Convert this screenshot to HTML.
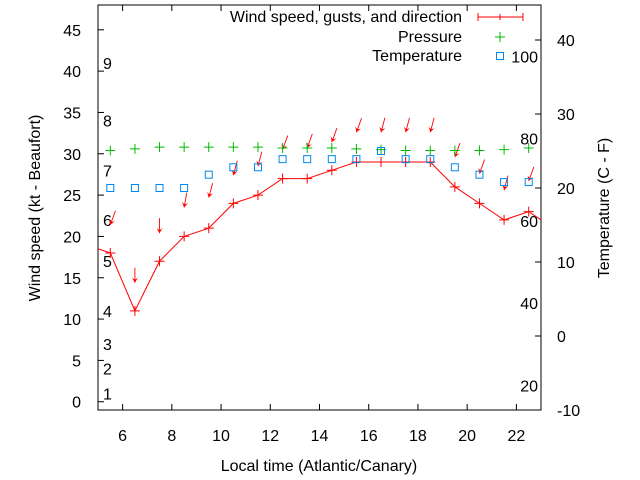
<!DOCTYPE html>
<html><head><meta charset="utf-8"><style>
body{margin:0;background:#fff}
svg{display:block;font-family:"Liberation Sans",sans-serif;font-size:16px}
</style></head><body>
<svg id="c" width="640" height="480"></svg>
<script>
const hours=[5.5,6.5,7.5,8.5,9.5,10.5,11.5,12.5,13.5,14.5,15.5,16.5,17.5,18.5,19.5,20.5,21.5,22.5];
const windLineX=[4.5,5.5,6.5,7.5,8.5,9.5,10.5,11.5,12.5,13.5,14.5,15.5,16.5,17.5,18.5,19.5,20.5,21.5,22.5,23.5];
const windLine=[19,18,11,17,20,21,24,25,27,27,28,29,29,29,29,26,24,22,23,21];
const arrowTip=[21.4,14.4,20.4,23.5,24.7,27.4,28.5,30.5,30.7,31.4,32.6,32.6,32.6,32.6,29.6,27.6,25.6,26.7];
const arrowDir=[20,0,0,10,15,15,15,20,20,20,20,15,15,15,20,20,15,20];
const pressure=[30.4,30.6,30.8,30.8,30.8,30.8,30.8,30.7,30.7,30.7,30.6,30.5,30.4,30.4,30.4,30.4,30.5,30.7];
const tempC=[20,20,20,20,21.8,22.8,22.8,23.9,23.9,23.9,23.9,25,23.9,23.9,22.8,21.8,20.8,20.8];
const xTicks=[6,8,10,12,14,16,18,20,22];
const yTicks=[0,5,10,15,20,25,30,35,40,45];
const y2Ticks=[-10,0,10,20,30,40];
const fTicks=[20,40,60,80,100];
const beaufortKt=[1,4,7,11,17,22,28,34,41];
const beaufortLbl=["1","2","3","4","5","6","7","8","9"];
const L=98,R=541,T=5,B=410;
const X=v=>L+(v-5)/18*(R-L);
const Y=v=>B-(v+1)/49*(B-T);
const Y2=c=>B-(c+10)/54.73*(B-T);
const svg=document.getElementById('c');const NS='http://www.w3.org/2000/svg';
function mk(t,a,p){const e=document.createElementNS(NS,t);for(const k in a)e.setAttribute(k,a[k]);(p||svg).appendChild(e);return e;}
const defs=mk('defs',{});const cp=mk('clipPath',{id:'cl'},defs);mk('rect',{x:L,y:T,width:R-L,height:B-T},cp);
const frame=mk('rect',{x:L,y:T,width:R-L,height:B-T,fill:'none',stroke:'#000'});

xTicks.forEach(v=>{mk('line',{x1:X(v),x2:X(v),y1:B,y2:B-6,stroke:'#000'});mk('line',{x1:X(v),x2:X(v),y1:T,y2:T+6,stroke:'#000'});
const t=mk('text',{x:X(v),y:B+31,'text-anchor':'middle'});t.textContent=v;});
yTicks.forEach(v=>{mk('line',{x1:L,x2:L+6,y1:Y(v),y2:Y(v),stroke:'#000'});
const t=mk('text',{x:L-17,y:Y(v)+6,'text-anchor':'end'});t.textContent=v;});
y2Ticks.forEach(v=>{mk('line',{x1:R,x2:R-6,y1:Y2(v),y2:Y2(v),stroke:'#000'});
const t=mk('text',{x:R+16,y:Y2(v)+6});t.textContent=v;});
fTicks.forEach(f=>{const t=mk('text',{x:538,y:Y2((f-32)/1.8)+6,'text-anchor':'end'});t.textContent=f;});
beaufortKt.forEach((k,i)=>{const t=mk('text',{x:103,y:Y(k)+6});t.textContent=beaufortLbl[i];});
const g=mk('g',{'clip-path':'url(#cl)'});
const wl=mk('polyline',{points:windLineX.map((h,i)=>X(h)+','+Y(windLine[i])).join(' '),fill:'none',stroke:'#f00'},g);

hours.forEach((h,i)=>{const x=X(h),y=Y(windLine[i+1]);const p=mk('path',{d:`M${x-5},${y}h10M${x},${y-5}v10`,stroke:'#f00'},g);

const tx=X(h),ty=Y(arrowTip[i]),a=arrowDir[i]*Math.PI/180;const ux=Math.sin(a),uy=-Math.cos(a);
const ar=mk('g',{},g);
mk('line',{x1:tx+ux*15,y1:ty+uy*15,x2:tx,y2:ty,stroke:'#f00','stroke-width':0.9},ar);
const px=-uy,py=ux;mk('polygon',{points:`${tx},${ty} ${tx+ux*5+px*3},${ty+uy*5+py*3} ${tx+ux*3},${ty+uy*3} ${tx+ux*5-px*3},${ty+uy*5-py*3}`,fill:'#f00'},ar);
const pr=mk('path',{d:`M${x-5},${Y(pressure[i])}h10M${x},${Y(pressure[i])-5}v10`,stroke:'#0b0'},g);

const sq=mk('rect',{x:x-3.5,y:Y2(tempC[i])-3.5,width:7,height:7,fill:'none',stroke:'#08e'},g);
});
function txt(s,a,n){const t=mk('text',a);t.textContent=s;return t;}
txt('Wind speed, gusts, and direction',{x:462,y:22,'text-anchor':'end'},'legend-wind');
mk('path',{d:'M478,17h45M478,13v8M523,13v8M500,14v6',stroke:'#f00'});
txt('Pressure',{x:462,y:42,'text-anchor':'end'},'legend-pressure');
mk('path',{d:'M495,37h10M500,32v10',stroke:'#0b0'});
txt('Temperature',{x:462,y:61,'text-anchor':'end'},'legend-temperature');
mk('rect',{x:496.5,y:52.5,width:7,height:7,fill:'none',stroke:'#08e'});
txt('Local time (Atlantic/Canary)',{x:319,y:471,'text-anchor':'middle'},'x-axis-title');
txt('Wind speed (kt - Beaufort)',{x:0,y:0,'text-anchor':'middle',transform:'translate(40,208) rotate(-90)'},'y-axis-title');
txt('Temperature (C - F)',{x:0,y:0,'text-anchor':'middle',transform:'translate(609,208) rotate(-90)'},'y2-axis-title');
</script></body></html>
